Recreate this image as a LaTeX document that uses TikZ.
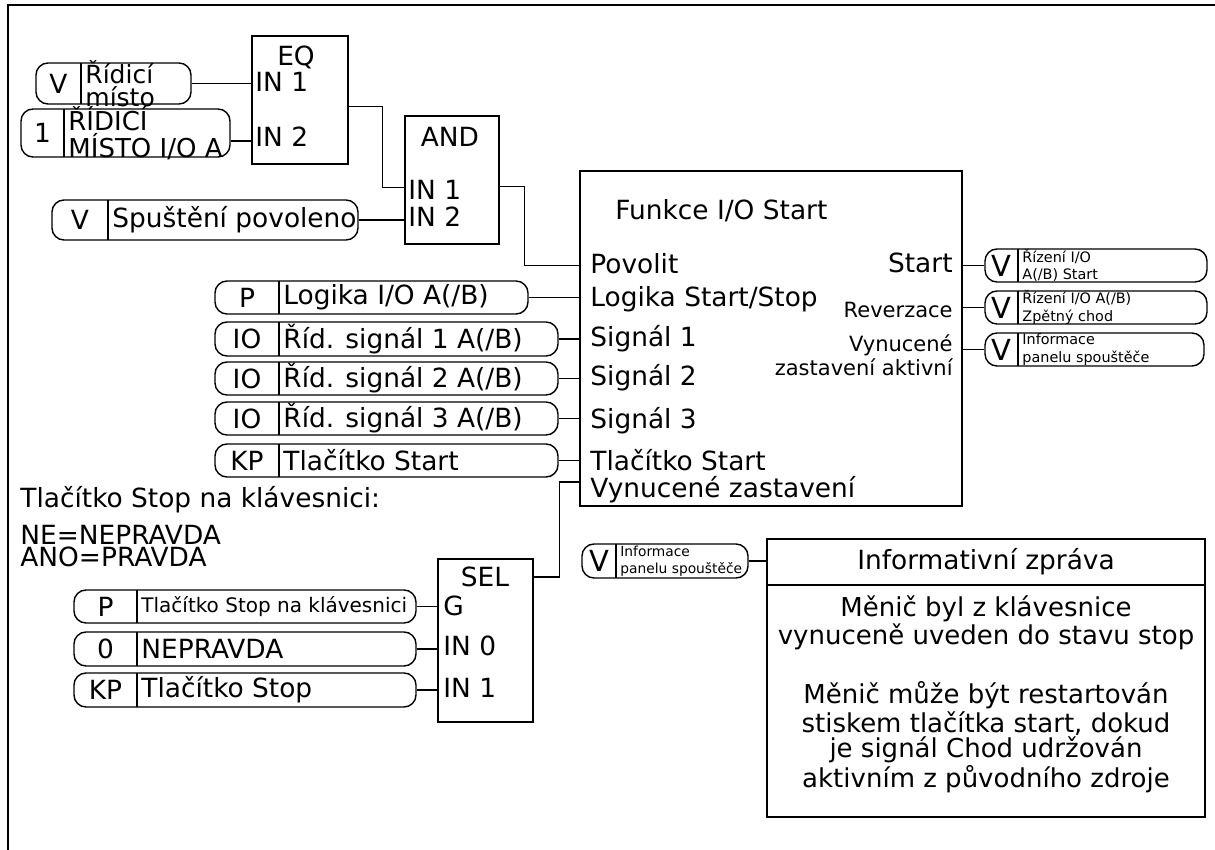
\documentclass[tikz,border=0pt]{standalone}
\usepackage{fontspec}
\setmainfont{DejaVu Sans}
\usetikzlibrary{calc}
\newcommand\fA{\fontsize{13.2}{15}\selectfont}
\newcommand\fB{\fontsize{10.5}{12}\selectfont}
\newcommand\fC{\fontsize{7.2}{8.7}\selectfont}
\newcommand\fCs{\fontsize{6.9}{8.5}\selectfont}
\newcommand\fD{\fontsize{10}{12}\selectfont}
\newcommand\fE{\fontsize{12.5}{9.8}\selectfont}
\newcommand\fF{\fontsize{13}{10.2}\selectfont}
\newcommand\fV{\fontsize{14.5}{15}\selectfont}
\newcommand\fG{\fontsize{13.2}{10.8}\selectfont}
\newcommand\fH{\fontsize{13}{12.75}\selectfont}
\tikzset{
  blk/.style={draw, line width=1.3pt, inner sep=0pt},
  infobox/.style={draw, line width=0.8pt, inner sep=0pt},
  pillbox/.style={draw, rounded corners=6pt, line width=0.7pt, inner sep=0pt},
  wire/.style={line width=0.8pt},
  lbl/.style={inner sep=0pt, font=\fA},
}
% #1 label font, #2 name, #3 x1, #4 y1, #5 x2, #6 y2, #7 divider x, #8 tag, #9 label
\newcommand\pill[9][\fA]{%
  \node[pillbox, minimum width={(#5-#3)*0.5pt}, minimum height={(#6-#4)*0.5pt}] (#2) at ({(#3+#5)/2},{(#4+#6)/2}) {};
  \draw[line width=0.6pt] (#7,#4) -- (#7,#6);
  \node[lbl] (#2-t) at ({(#3+#7)/2},{(#4+#6)/2}) {#8};
  \node[lbl, anchor=west, align=left, font=#1] (#2-l) at ({#7+4},{(#4+#6)/2}) {#9};
}
\begin{document}
\begin{tikzpicture}[x=0.5pt,y=-0.5pt]
\useasboundingbox (0,0) rectangle (1215,850);
\coordinate (fr1) at (8,850);
\coordinate (fr2) at (8,5);
\coordinate (fr3) at (1215,5);
\draw[line width=1pt] (fr1) -- (fr2) -- (fr3);

% ---- blocks
\node[blk, minimum width=48pt, minimum height=64pt] (eq) at (300,100) {};
\node[lbl] (eq-t) at (296,57) {EQ};
\node[lbl, anchor=west] (eq-i1) at (255,82) {IN 1};
\node[lbl, anchor=west] (eq-i2) at (255,137) {IN 2};

\node[blk, minimum width=47pt, minimum height=64pt] (and) at (452,180) {};
\node[lbl] (and-t) at (450,137) {AND};
\node[lbl, anchor=west] (and-i1) at (408,190) {IN 1};
\node[lbl, anchor=west] (and-i2) at (408,217) {IN 2};

\node[blk, minimum width=191pt, minimum height=167.5pt] (fn) at (771,338.5) {};
\node[lbl, anchor=west] (fn-t) at (615,211) {Funkce I/O Start};
\node[lbl, anchor=west] (fn-a) at (590,264) {Povolit};
\node[lbl, anchor=west] (fn-b) at (590,299) {Logika Start/Stop};
\node[lbl, anchor=west] (fn-c) at (590,339) {Signál 1};
\node[lbl, anchor=west] (fn-d) at (590,378) {Signál 2};
\node[lbl, anchor=west] (fn-e) at (590,421) {Signál 3};
\node[lbl, anchor=west] (fn-f) at (590,460) {Tlačítko Start};
\node[lbl, anchor=west] (fn-g) at (590,490) {Vynucené zastavení};
\node[lbl, anchor=east] (fn-o1) at (953,263) {Start};
\node[lbl, anchor=east, font=\fB] (fn-o2) at (953,310) {Reverzace};
\node[lbl, anchor=east, align=right, font=\fB] (fn-o3) at (953,355) {Vynucené\\zastavení aktivní};

\node[blk, minimum width=47.5pt, minimum height=81.5pt] (sel) at (485.5,640.5) {};
\node[lbl] (sel-t) at (485,577) {SEL};
\node[lbl, anchor=west] (sel-g) at (443,606) {G};
\node[lbl, anchor=west] (sel-i0) at (443,646) {IN 0};
\node[lbl, anchor=west] (sel-i1) at (443,688) {IN 1};

\node[infobox, minimum width=219pt, minimum height=139pt] (info) at (986,678) {};
\coordinate (infl) at ($(info.north west)+(0,47)$);
\coordinate (infr) at ($(info.north east)+(0,47)$);
\draw[line width=0.8pt] (infl) -- (infr);
\node[lbl] (info-h) at ($(info.north)+(0,23)$) {Informativní zpráva};
\node[lbl, align=center, font=\fH] (info-b) at (986,694) {Měnič byl z klávesnice\\vynuceně uveden do stavu stop\\[15pt]Měnič může být restartován\\stiskem tlačítka start, dokud\\je signál Chod udržován\\aktivním z původního zdroje};

% ---- free texts
\node[lbl, anchor=west] (kst) at (20,500) {Tlačítko Stop na klávesnici:};
\node[lbl, anchor=west, align=left, font=\fG] (kstv) at (20,546) {NE=NEPRAVDA\\ANO=PRAVDA};

% ---- pills
\pill[\fE]{pa}{36}{63}{191}{104}{81}{V}{Řídicí\\místo}
\pill[\fF]{pb}{21}{109}{230}{157}{64}{1}{ŘÍDICÍ\\MÍSTO I/O A}
\pill{pc}{52}{200}{358}{240}{108}{V}{Spuštění povoleno}

\pill{pl}{215}{281}{528}{314}{279}{P}{Logika I/O A(/B)}
\pill{s1}{215}{322}{558}{356}{279}{IO}{Říd. signál 1 A(/B)}
\pill{s2}{215}{362}{558}{395}{279}{IO}{Říd. signál 2 A(/B)}
\pill{s3}{215}{402}{558}{435}{279}{IO}{Říd. signál 3 A(/B)}
\pill{ks}{215}{444}{558}{477}{279}{KP}{Tlačítko Start}

\pill[\fD]{g}{74}{590}{416}{623}{137}{P}{Tlačítko Stop na klávesnici}
\pill{n0}{74}{632}{416}{666}{137}{0}{NEPRAVDA}
\pill{kp}{74}{673}{416}{707}{137}{KP}{Tlačítko Stop}

\pill[\fC]{o1}{985}{249}{1207}{282}{1018}{\fV V}{Řízení I/O\\A(/B) Start}
\pill[\fC]{o2}{985}{291}{1207}{324}{1018}{\fV V}{Řízení I/O A(/B)\\Zpětný chod}
\pill[\fC]{o3}{985}{333}{1204}{366}{1018}{\fV V}{Informace\\panelu spouštěče}

\pill[\fCs]{iv}{582}{544}{748}{578}{616}{\fV V}{Informace\\panelu spouštěče}

% ---- connectors
\draw[wire] (pa.east) -- (pa.east -| eq.west);
\draw[wire] ($(pb.east)+(0,8)$) -- ($(pb.east -| eq.west)+(0,8)$);
\coordinate (eqo) at ($(eq.north east)+(0,72)$);
\coordinate (andi1) at ($(and.north west)+(0,73)$);
\draw[wire] (eqo) -- ++(33,0) |- (andi1);
\draw[wire] (pc.east) -- (pc.east -| and.west);
\coordinate (ando) at ($(and.north east)+(0,72)$);
\coordinate (fpov) at ($(fn.north west)+(0,96)$);
\draw[wire] (ando) -- ++(24,0) |- (fpov);

\draw[wire] (pl.east) -- (pl.east -| fn.west);
\draw[wire] (s1.east) -- (s1.east -| fn.west);
\draw[wire] (s2.east) -- (s2.east -| fn.west);
\draw[wire] (s3.east) -- (s3.east -| fn.west);
\draw[wire] (ks.east) -- (ks.east -| fn.west);

\coordinate (selo) at ($(sel.north east)+(0,19)$);
\coordinate (fvz) at ($(fn.north west)+(0,312)$);
\draw[wire] (selo) -- ++(25,0) |- (fvz);

\draw[wire] (g.east) -- (g.east -| sel.west);
\draw[wire] (n0.east) -- (n0.east -| sel.west);
\draw[wire] (kp.east) -- (kp.east -| sel.west);

\draw[wire] (o1.west -| fn.east) -- (o1.west);
\draw[wire] (o2.west -| fn.east) -- (o2.west);
\draw[wire] (o3.west -| fn.east) -- (o3.west);

\draw[wire] (iv.east) -- (iv.east -| info.west);
\end{tikzpicture}
\end{document}
